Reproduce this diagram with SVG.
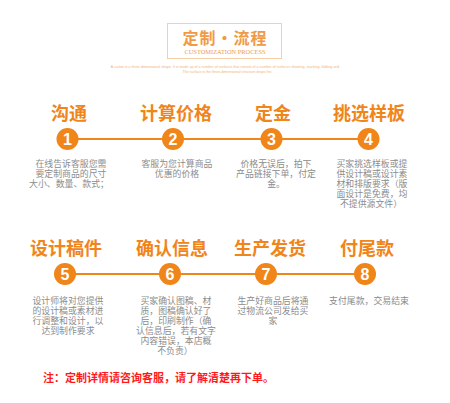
<svg xmlns="http://www.w3.org/2000/svg" width="450" height="403" viewBox="0 0 450 403">
<style>
.h{font-family:"Noto Sans CJK SC",sans-serif;font-weight:700;font-size:18px;fill:#f08519;text-anchor:middle}
.d{font-family:"Liberation Sans","Noto Sans CJK SC",sans-serif;font-size:8.9px;fill:#8c8c8c;text-anchor:middle}
.c{fill:#f08519}
.n{font-family:"Liberation Sans",Arial,sans-serif;font-weight:700;font-size:16px;fill:#fff;text-anchor:middle}
.ln{stroke:#f08519;stroke-width:2;fill:none}
.tiny{font-family:"Liberation Sans",Arial,sans-serif;font-size:3.6px;fill:#f4b27a;text-anchor:middle}
</style>
<rect width="450" height="403" fill="#fff"/>
<g id="title">
<rect x="167.5" y="23.5" width="114" height="35" fill="none" stroke="#f7cfa6" stroke-width="1"/>
<text x="225" y="44" font-family="Noto Sans CJK SC,sans-serif" font-size="16" font-weight="700" fill="#f19a45" text-anchor="middle" letter-spacing="1">定制·流程</text>
<text x="225" y="53.5" font-family="Liberation Serif,serif" font-size="6.4" fill="#f19a45" text-anchor="middle">CUSTOMIZATION PROCESS</text>
<text class="tiny" x="225" y="67.5">A carton is a three-dimensional shape. It is made up of a number of surfaces that consist of a number of surfaces showing, stacking, folding and</text>
<text class="tiny" x="227" y="73">The surface is the three-dimensional structure drops the</text>
</g>
<g id="connectors">
<line class="ln" x1="67" y1="139" x2="369" y2="139"/>
<line class="ln" x1="65" y1="274" x2="365" y2="274"/>
</g>
<g id="step1">
<text class="h" x="69" y="120">沟通</text>
<circle class="c" cx="67.5" cy="139" r="11"/>
<text class="n" x="67.5" y="145">1</text>
<text class="d" x="71" y="166.5">在线告诉客服您需<tspan x="71" dy="10">要定制商品的尺寸</tspan><tspan x="69" dy="10">大小、数量、款式；</tspan></text>
</g>
<g id="step2">
<text class="h" x="176" y="120">计算价格</text>
<circle class="c" cx="173" cy="139" r="11"/>
<text class="n" x="173" y="145">2</text>
<text class="d" x="177" y="166.5">客服为您计算商品<tspan x="177" dy="10">优惠的价格</tspan></text>
</g>
<g id="step3">
<text class="h" x="273" y="120">定金</text>
<circle class="c" cx="271.5" cy="139" r="11"/>
<text class="n" x="271.5" y="145">3</text>
<text class="d" x="276" y="166.5">价格无误后，拍下<tspan x="276" dy="10">产品链接下单，付定</tspan><tspan x="276" dy="10">金。</tspan></text>
</g>
<g id="step4">
<text class="h" x="369" y="120">挑选样板</text>
<circle class="c" cx="368.5" cy="139" r="11"/>
<text class="n" x="368.5" y="145">4</text>
<text class="d" x="372" y="166.5">买家挑选样板或提<tspan x="372" dy="10">供设计稿或设计素</tspan><tspan x="372" dy="10">材和排版要求（版</tspan><tspan x="372" dy="10">面设计是免费，均</tspan><tspan x="371" dy="10">不提供源文件）</tspan></text>
</g>
<g id="step5">
<text class="h" x="66" y="255">设计稿件</text>
<circle class="c" cx="65" cy="274" r="11"/>
<text class="n" x="65" y="280">5</text>
<text class="d" x="68" y="303.5">设计师将对您提供<tspan x="68" dy="10">的设计稿或素材进</tspan><tspan x="68" dy="10">行调整和设计，以</tspan><tspan x="68" dy="10">达到制作要求</tspan></text>
</g>
<g id="step6">
<text class="h" x="172" y="255">确认信息</text>
<circle class="c" cx="170" cy="274" r="11"/>
<text class="n" x="170" y="280">6</text>
<text class="d" x="176" y="303.5">买家确认图稿、材<tspan x="176" dy="10">质，图稿确认好了</tspan><tspan x="176" dy="10">后，印刷制作（确</tspan><tspan x="176" dy="10">认信息后，若有文字</tspan><tspan x="176" dy="10">内容错误，本店概</tspan><tspan x="175" dy="10">不负责）</tspan></text>
</g>
<g id="step7">
<text class="h" x="270" y="255">生产发货</text>
<circle class="c" cx="266" cy="274" r="11"/>
<text class="n" x="266" y="280">7</text>
<text class="d" x="273" y="303.5">生产好商品后将通<tspan x="273" dy="10">过物流公司发给买</tspan><tspan x="273" dy="10">家</tspan></text>
</g>
<g id="step8">
<text class="h" x="367" y="255">付尾款</text>
<circle class="c" cx="365" cy="274" r="11"/>
<text class="n" x="365" y="280">8</text>
<text class="d" x="369" y="303.5">支付尾款，交易结束</text>
</g>
<g id="note">
<text x="43" y="382" font-family="Noto Sans CJK SC,sans-serif" font-size="11" font-weight="700" fill="#ff1a1a">注：定制详情请咨询客服，请了解清楚再下单。</text>
</g>
</svg>
